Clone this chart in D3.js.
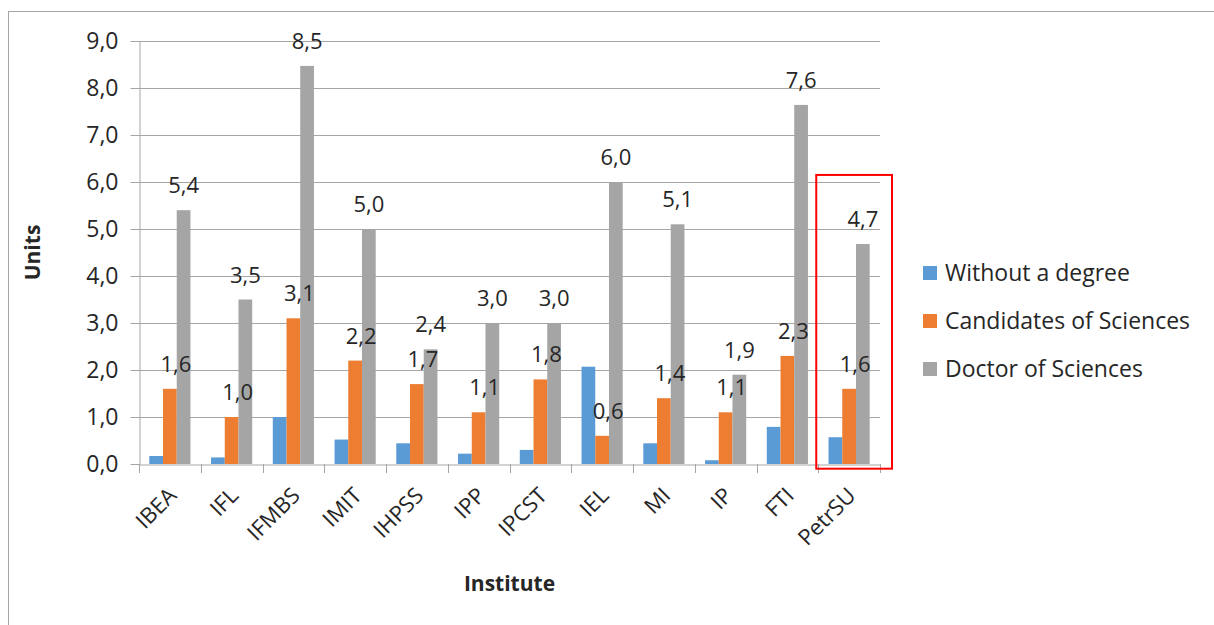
<!DOCTYPE html>
<html><head><meta charset="utf-8">
<script src="https://cdn.jsdelivr.net/npm/d3@7"></script>
<style>
body{margin:0;background:#fff;}
svg text{font-family:"Open Sans","Liberation Sans",sans-serif;fill:#262626;}
</style></head>
<body>
<svg id="c" width="1214" height="625"></svg>
<script>
const categories = ["IBEA","IFL","IFMBS","IMIT","IHPSS","IPP","IPCST","IEL","MI","IP","FTI","PetrSU"];
const seriesNames = ["Without a degree","Candidates of Sciences","Doctor of Sciences"];
const withoutDegree = [0.17,0.14,1.0,0.52,0.44,0.22,0.30,2.07,0.44,0.08,0.79,0.57];
const candidates = [1.6,1.0,3.1,2.2,1.7,1.1,1.8,0.6,1.4,1.1,2.3,1.6];
const doctors = [5.4,3.5,8.47,5.0,2.44,3.0,3.0,6.0,5.1,1.9,7.64,4.68];
const yTicks = [0,1,2,3,4,5,6,7,8,9];
const colors = ["#5b9bd5","#ed7d31","#a5a5a5"];
const highlighted = "PetrSU";

const svg = d3.select("#c");
const m = {left:139, right:880, top:41, bottom:464};
const x = d3.scaleBand().domain(categories).range([m.left, m.right]).padding(0);
const gw = x.bandwidth()/1.5, off = (x.bandwidth()-gw)/2;
const inner = d3.scaleBand().domain([0,1,2]).range([off, off+gw]).padding(0);
const y = d3.scaleLinear().domain([0,9]).range([m.bottom, m.top]);
const fmt = v => d3.format(".1f")(v).replace(".", ",");

// outer border
svg.append("rect").attr("x",8.5).attr("y",11.5).attr("width",1240).attr("height",640)
  .attr("fill","none").attr("stroke","#a6a6a6").attr("stroke-width",1);

// gridlines
svg.append("g").selectAll("line").data(yTicks.slice(1)).join("line")
  .attr("x1",m.left).attr("x2",m.right)
  .attr("y1",d=>Math.round(y(d))+0.5).attr("y2",d=>Math.round(y(d))+0.5)
  .attr("stroke","#a6a6a6").attr("stroke-width",1);

// y axis
const ya = svg.append("g").attr("transform",`translate(${m.left+0.5},0)`)
  .call(d3.axisLeft(y).tickValues(yTicks).tickFormat(fmt).tickSize(9).tickSizeOuter(0));
ya.attr("font-family",null).attr("font-size",null);
ya.select(".domain").attr("stroke","#a6a6a6");
ya.selectAll(".tick line").attr("stroke","#a6a6a6");
ya.selectAll(".tick text").attr("font-size",23).attr("x",-21).attr("fill","#262626");

// x axis
const xa = svg.append("g").attr("transform",`translate(0,${m.bottom+0.5})`)
  .call(d3.axisBottom(x).tickSize(0).tickSizeOuter(0));
xa.select(".domain").attr("stroke","#a6a6a6");
xa.selectAll(".tick").remove();
const bounds = categories.map(c=>x(c)).concat([m.right]);
svg.append("g").selectAll("line").data(bounds).join("line")
  .attr("x1",d=>Math.round(d)+0.5).attr("x2",d=>Math.round(d)+0.5)
  .attr("y1",m.bottom).attr("y2",m.bottom+9).attr("stroke","#a6a6a6");
svg.append("g").selectAll("text").data(categories).join("text")
  .attr("transform",d=>`translate(${x(d)+x.bandwidth()/2+8},${m.bottom+33}) rotate(-45)`)
  .attr("text-anchor","end").attr("font-size",22).text(d=>d);

// bars
const series = [withoutDegree, candidates, doctors];
series.forEach((vals,si)=>{
  svg.append("g").selectAll("rect").data(categories).join("rect")
    .attr("x",(c)=>x(c)+inner(si))
    .attr("width",inner.bandwidth())
    .attr("y",(c,i)=>y(vals[i]))
    .attr("height",(c,i)=>y(0)-y(vals[i]))
    .attr("fill",colors[si]);
});
// data labels (on top of bars)
[1,2].forEach(si=>{
  const vals = series[si];
  svg.append("g").selectAll("text").data(categories).join("text")
    .attr("x",(c)=>x(c)+inner(si)+inner.bandwidth()/2 + (si===1?6:0))
    .attr("y",(c,i)=>y(vals[i])-17)
    .attr("text-anchor","middle").attr("font-size",22)
    .text((c,i)=>fmt(vals[i]));
});

// highlight
svg.append("rect")
  .attr("x",x(highlighted)-2).attr("y",y(6.15))
  .attr("width",x.bandwidth()+14).attr("height",y(-0.1)-y(6.15))
  .attr("fill","none").attr("stroke","#ff0000").attr("stroke-width",2);

// axis titles
svg.append("text").attr("transform",`translate(40,${(m.top+m.bottom)/2}) rotate(-90)`)
  .attr("text-anchor","middle").attr("font-size",21).attr("font-weight","bold").text("Units");
svg.append("text").attr("x",(m.left+m.right)/2).attr("y",591)
  .attr("text-anchor","middle").attr("font-size",21).attr("font-weight","bold").text("Institute");

// legend
const lg = svg.append("g").selectAll("g").data(seriesNames).join("g")
  .attr("transform",(d,i)=>`translate(923,${273+i*48})`);
lg.append("rect").attr("x",0).attr("y",-7).attr("width",14).attr("height",14).attr("fill",(d,i)=>colors[i]);
lg.append("text").attr("x",22).attr("dy","0.35em").attr("font-size",23).text(d=>d);
</script>
</body></html>
